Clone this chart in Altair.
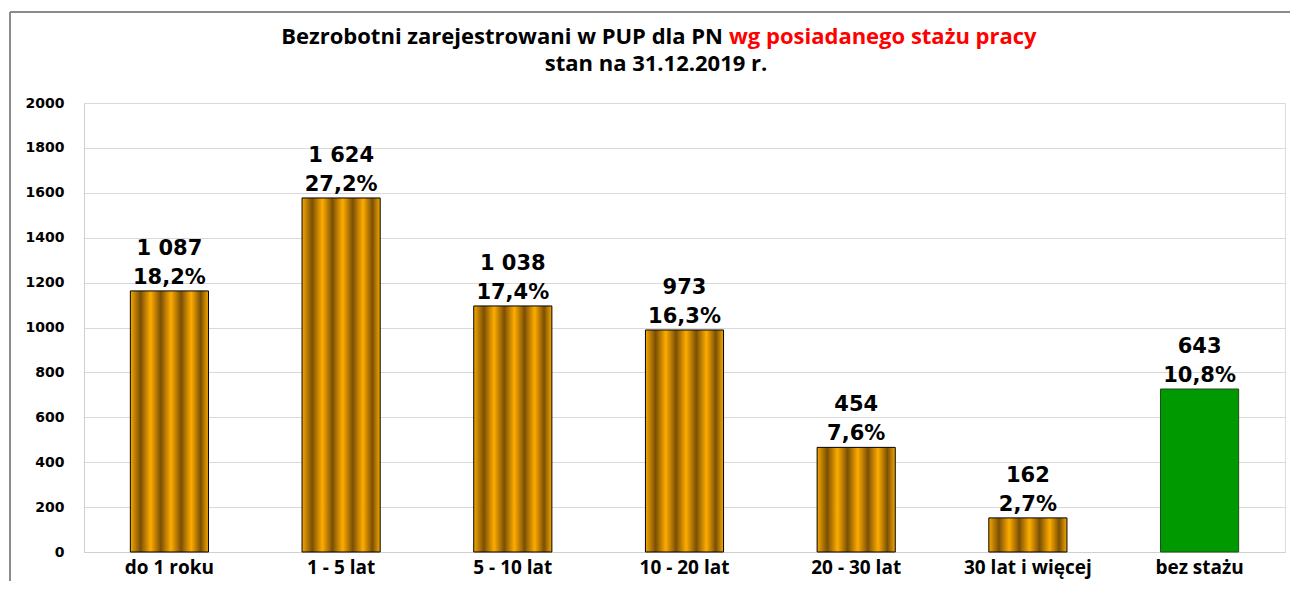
import altair as alt
import pandas as pd

categories = ["do 1 roku", "1 - 5 lat", "5 - 10 lat", "10 - 20 lat", "20 - 30 lat", "30 lat i więcej", "bez stażu"]
bar_heights = [1163, 1577, 1096, 989, 466, 152, 726]
count_labels = ["1 087", "1 624", "1 038", "973", "454", "162", "643"]
pct_labels = ["18,2%", "27,2%", "17,4%", "16,3%", "7,6%", "2,7%", "10,8%"]
kinds = ["staz", "staz", "staz", "staz", "staz", "staz", "bez"]

df = pd.DataFrame({"cat": categories, "val": bar_heights, "cnt": count_labels, "pct": pct_labels, "kind": kinds})

W, H = 1201, 449

gold = alt.LinearGradient(
    gradient="linear", x1=0, x2=1, y1=0, y2=0,
    stops=[
        alt.GradientStop(offset=0.0, color="#f7a800"),
        alt.GradientStop(offset=0.13, color="#7a4f05"),
        alt.GradientStop(offset=0.26, color="#ffac00"),
        alt.GradientStop(offset=0.39, color="#7a4f05"),
        alt.GradientStop(offset=0.52, color="#ffac00"),
        alt.GradientStop(offset=0.65, color="#7a4f05"),
        alt.GradientStop(offset=0.78, color="#ffac00"),
        alt.GradientStop(offset=0.9, color="#7a4f05"),
        alt.GradientStop(offset=1.0, color="#f7a800"),
    ],
)

x_enc = alt.X("cat:N", sort=categories, scale=alt.Scale(paddingInner=0.545, paddingOuter=0.27),
              axis=alt.Axis(title=None, labelAngle=0, labelFont="Open Sans", labelFontWeight="bold",
                            labelFontSize=19, labelColor="#000", labelPadding=6, ticks=False,
                            domainColor="#d0d0d0", domainWidth=1))
y_enc = alt.Y("val:Q", scale=alt.Scale(domain=[0, 2000], nice=False),
              axis=alt.Axis(title=None, values=list(range(0, 2001, 200)), format="d", labelFont="DejaVu Sans",
                            labelFontWeight="bold", labelFontSize=14, labelColor="#000", labelPadding=20,
                            ticks=False, domainColor="#d0d0d0", gridColor="#d9d9d9", gridWidth=1))

base = alt.Chart(df)

bars_gold = base.transform_filter(alt.datum.kind == "staz").mark_bar(
    fill=gold, stroke="#000", strokeWidth=1).encode(x=x_enc, y=y_enc)
bars_green = base.transform_filter(alt.datum.kind == "bez").mark_bar(
    fill="#009900", stroke="#1a4d1a", strokeWidth=1).encode(x=x_enc, y=y_enc)

pct_text = base.mark_text(font="DejaVu Sans", fontWeight="bold", fontSize=21, baseline="bottom",
                          dy=-3, color="#000").encode(x=alt.X("cat:N", sort=categories), y="val:Q", text="pct:N")
cnt_text = base.mark_text(font="DejaVu Sans", fontWeight="bold", fontSize=21, baseline="bottom",
                          dy=-32, color="#000").encode(x=alt.X("cat:N", sort=categories), y="val:Q", text="cnt:N")

title_df = pd.DataFrame({"a": ["Bezrobotni zarejestrowani w PUP dla PN"], "b": ["wg posiadanego stażu pracy"],
                         "c": ["stan na 31.12.2019 r."]})
tbase = alt.Chart(title_df)
t1 = tbase.mark_text(font="Open Sans", fontWeight="bold", fontSize=22, align="right", baseline="middle", color="#000").encode(
    x=alt.value(639), y=alt.value(-66), text="a:N")
t2 = tbase.mark_text(font="Open Sans", fontWeight="bold", fontSize=22, align="left", baseline="middle", color="#ff0000").encode(
    x=alt.value(645), y=alt.value(-66), text="b:N")
t3 = tbase.mark_text(font="Open Sans", fontWeight="bold", fontSize=22, align="center", baseline="middle", color="#000").encode(
    x=alt.value(572), y=alt.value(-39), text="c:N")

border_v = tbase.mark_rule(color="#8c8c8c", strokeWidth=2).encode(
    x=alt.value(-74), y=alt.value(-91), y2=alt.value(H + 40))
border_h = tbase.mark_rule(color="#8c8c8c", strokeWidth=2).encode(
    x=alt.value(-74), x2=alt.value(W + 10), y=alt.value(-91))

chart = alt.layer(bars_gold, bars_green, pct_text, cnt_text, t1, t2, t3, border_v, border_h).properties(
    width=W, height=H, autosize=alt.AutoSizeParams(type="none"),
    padding={"left": 76, "top": 95, "right": 5, "bottom": 29},
).configure_view(stroke=None).configure(background="#ffffff")

chart.save("out.html", embed_options={"renderer": "svg", "actions": False})
